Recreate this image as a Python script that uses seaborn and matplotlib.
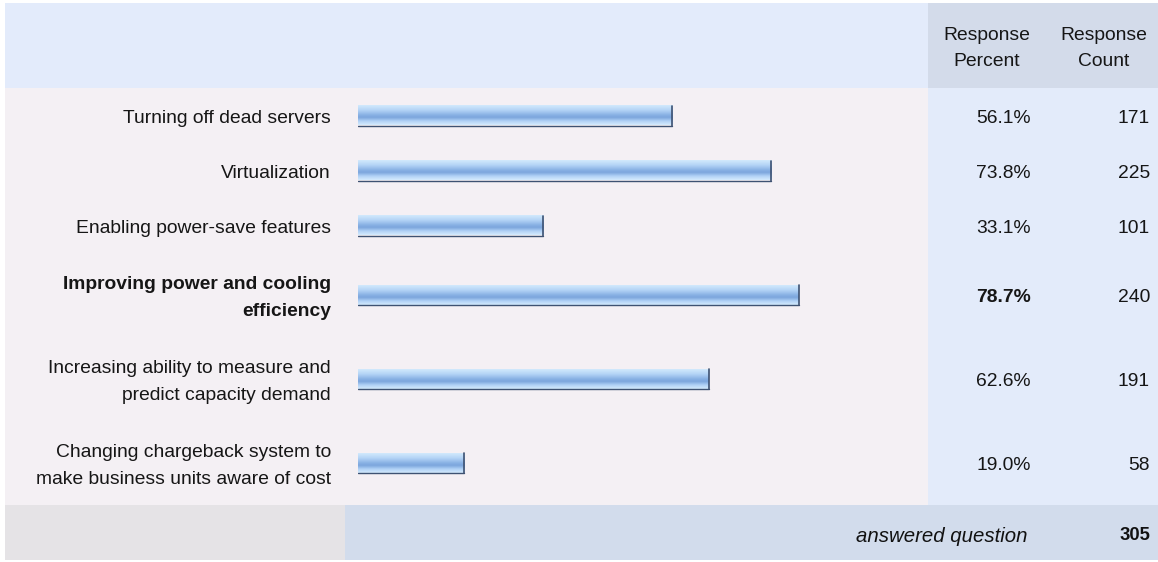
import numpy as np
import pandas as pd
import matplotlib
matplotlib.use("Agg")
import matplotlib.pyplot as plt
from matplotlib.colors import LinearSegmentedColormap
from matplotlib.patches import Rectangle
import seaborn as sns

# ---- data ----
categories = [
    "Turning off dead servers",
    "Virtualization",
    "Enabling power-save features",
    "Improving power and cooling\nefficiency",
    "Increasing ability to measure and\npredict capacity demand",
    "Changing chargeback system to\nmake business units aware of cost",
]
percent = [56.1, 73.8, 33.1, 78.7, 62.6, 19.0]
counts = [171, 225, 101, 240, 191, 58]
bold_rows = [False, False, False, True, False, False]
answered_label = "answered question"
answered_count = 305
header_percent = "Response\nPercent"
header_count = "Response\nCount"

# ---- layout (pixels) ----
W, H = 1158, 562
FONT = "Liberation Sans"
FS = 13.9
TXT = "#161616"
body_top = 88
row_h = [55 if "\n" not in c else 84 for c in categories]
bounds = np.concatenate([[body_top], body_top + np.cumsum(row_h)])
centers = (bounds[:-1] + bounds[1:]) / 2
body_bot = bounds[-1]

sns.set_theme(style="white")
plt.rcParams["font.family"] = [FONT, "DejaVu Sans"]

fig = plt.figure(figsize=(W / 100, H / 100), dpi=100)
fig.patch.set_facecolor("white")

bg = fig.add_axes([0, 0, 1, 1])
bg.set_xlim(0, W)
bg.set_ylim(H, 0)
bg.axis("off")

def rect(x0, y0, x1, y1, color):
    bg.add_patch(Rectangle((x0, y0), x1 - x0, y1 - y0, facecolor=color,
                           edgecolor="none", zorder=0))

col_x = 928
rect(5, 3, col_x, body_top, "#e3ebfb")
rect(col_x, 3, W, body_top, "#d3dbea")
rect(5, body_top, col_x, body_bot, "#f4f0f4")
rect(col_x, body_top, W, body_bot, "#e3ebfa")
rect(5, body_bot, 345, 560, "#e5e3e6")
rect(345, body_bot, W, 560, "#d2dcec")

VA = "center_baseline"

# header
for txt, cx in [(header_percent, 987), (header_count, 1104)]:
    l1, l2 = txt.split("\n")
    bg.text(cx, 33, l1, ha="center", va=VA, fontsize=FS, color=TXT)
    bg.text(cx, 60, l2, ha="center", va=VA, fontsize=FS, color=TXT)

# labels and values
for i, (cat, p, c, b) in enumerate(zip(categories, percent, counts, bold_rows)):
    cy = centers[i] + 1
    w = "bold" if b else "normal"
    lines = cat.split("\n")
    if len(lines) == 1:
        ys = [cy]
    else:
        ys = [cy - 13.5, cy + 13.5]
    for ln, yy in zip(lines, ys):
        bg.text(331, yy, ln, ha="right", va=VA, fontsize=FS,
                fontweight=w, color=TXT)
    bg.text(1031, cy, f"{p:.1f}%", ha="right", va=VA, fontsize=FS,
            fontweight=w, color=TXT)
    bg.text(1150, cy, f"{c}", ha="right", va=VA, fontsize=FS,
            color=TXT)

# footer
bg.text(1027, 534, answered_label, ha="right", va=VA, fontsize=FS + 0.8,
        style="italic", color="#111111")
bg.text(1150, 534, str(answered_count), ha="right", va=VA, fontsize=FS - 0.6,
        fontweight="bold", color="#111111")

# ---- bars ----
bx0, bx1 = 358, 918
ax = fig.add_axes([bx0 / W, 0, (bx1 - bx0) / W, 1])
ax.patch.set_alpha(0)
df = pd.DataFrame({"pct": percent, "row": centers})
min_gap = np.min(np.diff(centers))
sns.barplot(data=df, x="pct", y="row", orient="h", native_scale=True,
            width=20 / min_gap, color="#86b0e4", ax=ax)

grad = LinearSegmentedColormap.from_list(
    "bar", [(0.0, "#d2e9fc"), (0.25, "#b4d4f6"), (0.5, "#88b1e4"),
            (0.62, "#7ca6dd"), (0.8, "#afd0f5"), (1.0, "#d4ebfd")])
img = np.linspace(0, 1, 64).reshape(-1, 1)
for patch in ax.patches:
    x0, y0 = patch.get_x(), patch.get_y()
    pw, ph = patch.get_width(), patch.get_height()
    patch.set_facecolor("none")
    patch.set_edgecolor("none")
    top, bot = min(y0, y0 + ph), max(y0, y0 + ph)
    ax.imshow(img, cmap=grad, aspect="auto", origin="upper",
              extent=(x0, x0 + pw, bot, top), zorder=2, interpolation="bilinear")
    ax.plot([x0 + pw, x0 + pw], [top, bot], color="#3e5272", lw=1.2, zorder=3)
    ax.plot([x0, x0 + pw], [bot, bot], color="#3e5272", lw=1.0, zorder=3)

ax.set_xlim(0, 100)
ax.set_ylim(H, 0)
ax.axis("off")

fig.savefig("out.png", dpi=100, facecolor="white")
